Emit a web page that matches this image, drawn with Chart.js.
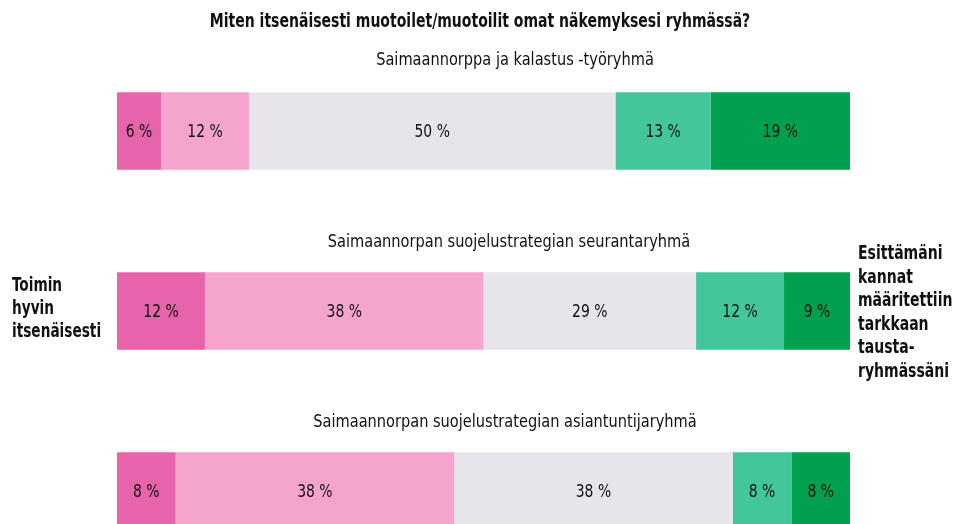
<!DOCTYPE html>
<html>
<head>
<meta charset="utf-8">
<script src="https://cdn.jsdelivr.net/npm/chart.js@4.4.1/dist/chart.umd.min.js"></script>
<style>
    html, body { margin: 0; padding: 0; background: #fff; overflow: hidden; }
    #wrap { width: 960px; height: 581px; }
</style>
</head>
<body>
<div id="wrap"><canvas id="chart" width="960" height="581"></canvas></div>
<script>
const title = "Miten itsenäisesti muotoilet/muotoilit omat näkemyksesi ryhmässä?";
const groups = [
    "Saimaannorppa ja kalastus -työryhmä",
    "Saimaannorpan suojelustrategian seurantaryhmä",
    "Saimaannorpan suojelustrategian asiantuntijaryhmä"
];
const leftLabel = ["Toimin", "hyvin", "itsenäisesti"];
const rightLabel = ["Esittämäni", "kannat", "määritettiin", "tarkkaan", "tausta-", "ryhmässäni"];

// answer scale, from "toimin itsenäisesti" to "taustaryhmässä määritetty"
const scaleSteps = ["1", "2", "3", "4", "5"];
const step1 = [6, 12, 8];
const step2 = [12, 38, 38];
const step3 = [50, 29, 38];
const step4 = [13, 12, 8];
const step5 = [19, 9, 8];
const colors = ["#e764aa", "#f4a4cd", "#e7e4ec", "#43c69a", "#00a04f"];

const FONT = '"DejaVu Sans Condensed", "Liberation Sans Narrow", "Roboto", sans-serif';

// the original uses a condensed face, so squeeze the text a bit horizontally
function drawText(ctx, text, x, y, sx) {
    ctx.save();
    ctx.translate(x, y);
    ctx.scale(sx, 1);
    ctx.fillText(text, 0, 0);
    ctx.restore();
}

const labelPlugin = {
    id: "segmentLabels",
    afterDatasetsDraw(chart) {
        const ctx = chart.ctx;
        ctx.save();
        ctx.fillStyle = "#111";
        ctx.font = "18px " + FONT;
        ctx.textAlign = "center";
        ctx.textBaseline = "middle";
        chart.data.datasets.forEach((ds, i) => {
            chart.getDatasetMeta(i).data.forEach((bar, j) => {
                const p = bar.getProps(["x", "y", "base"], true);
                drawText(ctx, ds.data[j] + " %", (p.x + p.base) / 2, p.y + 1, 0.86);
            });
        });
        ctx.restore();
    }
};

const textPlugin = {
    id: "texts",
    afterDraw(chart) {
        const ctx = chart.ctx;
        ctx.save();
        ctx.fillStyle = "#111";
        ctx.textBaseline = "alphabetic";

        ctx.textAlign = "center";
        ctx.font = "bold 19px " + FONT;
        drawText(ctx, title, 480, 27, 0.82);

        ctx.font = "18px " + FONT;
        const subY = [65, 247, 427];
        const subX = [515, 509, 505];
        groups.forEach((g, i) => drawText(ctx, g, subX[i], subY[i], 0.9));

        ctx.textAlign = "left";
        ctx.font = "bold 19px " + FONT;
        leftLabel.forEach((t, i) => drawText(ctx, t, 12, 291 + i * 23, 0.8));
        rightLabel.forEach((t, i) => drawText(ctx, t, 858, 259 + i * 23.5, 0.82));
        ctx.restore();
    }
};

const allSteps = [step1, step2, step3, step4, step5];

new Chart(document.getElementById("chart"), {
    type: "bar",
    data: {
        labels: groups,
        datasets: scaleSteps.map((name, i) => ({
            label: name,
            data: allSteps[i],
            backgroundColor: colors[i],
            borderWidth: 0,
            barPercentage: 1,
            categoryPercentage: 0.43
        }))
    },
    options: {
        indexAxis: "y",
        responsive: false,
        animation: false,
        layout: {
            padding: { left: 117, right: 110, top: 41, bottom: 0 }
        },
        plugins: {
            legend: { display: false },
            tooltip: { enabled: false }
        },
        scales: {
            x: { stacked: true, min: 0, max: 100, display: false },
            y: { stacked: true, display: false, offset: true }
        }
    },
    plugins: [labelPlugin, textPlugin]
});
</script>
</body>
</html>
